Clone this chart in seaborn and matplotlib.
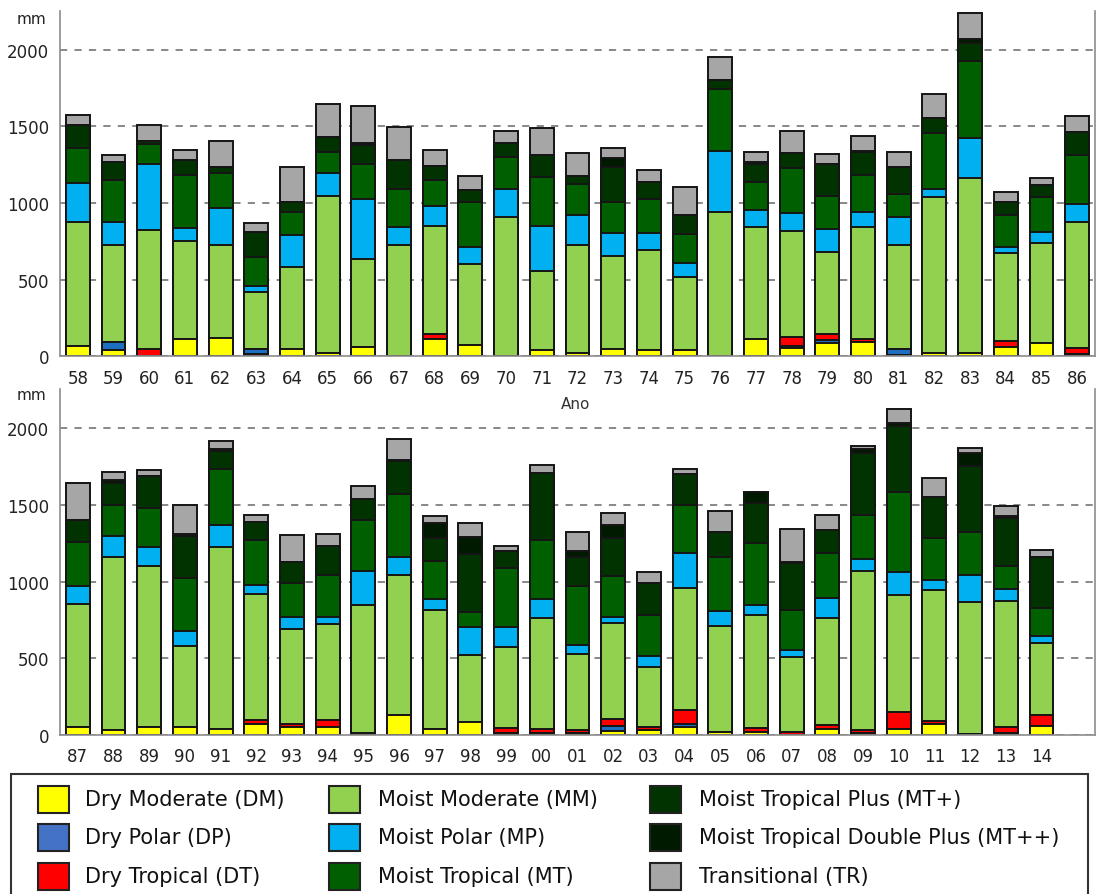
import numpy as np
import pandas as pd
import matplotlib
matplotlib.use("Agg")
import matplotlib.pyplot as plt
import seaborn as sns
from matplotlib.patches import Rectangle

# ---------------- data ----------------
years_top = ["58", "59", "60", "61", "62", "63", "64", "65", "66", "67", "68", "69", "70", "71", "72",
             "73", "74", "75", "76", "77", "78", "79", "80", "81", "82", "83", "84", "85", "86"]
dm_top = [65, 41, 0, 110, 120, 15, 50, 22, 60, 0, 115, 75, 0, 40, 20, 50, 38, 40, 0, 110, 55, 90, 95, 10, 20, 20, 60, 85, 15]
dp_top = [0, 55, 0, 0, 0, 30, 0, 0, 0, 0, 0, 0, 0, 0, 0, 0, 0, 0, 0, 0, 10, 18, 0, 35, 0, 0, 0, 0, 0]
dt_top = [0, 0, 45, 0, 0, 0, 0, 0, 0, 0, 30, 0, 0, 0, 0, 0, 0, 0, 0, 0, 60, 35, 20, 0, 0, 0, 40, 0, 40]
mm_top = [813, 632, 777, 640, 608, 372, 530, 1026, 575, 726, 707, 527, 911, 514, 706, 607, 656, 480, 944, 731,
          695, 540, 726, 681, 1017, 1143, 572, 652, 823]
mp_top = [250, 146, 432, 89, 239, 40, 213, 148, 391, 115, 126, 113, 180, 298, 196, 147, 110, 89, 397, 116,
          113, 147, 103, 185, 54, 261, 43, 72, 116]
mt_top = [229, 276, 133, 346, 231, 193, 146, 139, 228, 250, 172, 289, 207, 320, 202, 200, 222, 189, 403, 182,
          295, 218, 241, 148, 366, 504, 207, 228, 321]
mtp_top = [152, 117, 15, 95, 35, 159, 65, 93, 126, 189, 93, 81, 93, 141, 54, 229, 113, 124, 60, 115,
           96, 206, 145, 174, 97, 116, 82, 80, 146]
mtpp_top = [0, 0, 0, 0, 0, 0, 0, 0, 10, 0, 0, 0, 0, 0, 0, 58, 0, 0, 0, 15, 0, 0, 11, 0, 0, 26, 0, 0, 0]
tr_top = [67, 46, 109, 68, 174, 58, 229, 216, 240, 214, 103, 91, 81, 174, 146, 66, 78, 185, 146, 66,
          148, 66, 98, 102, 157, 167, 70, 46, 104]

years_bot = ["87", "88", "89", "90", "91", "92", "93", "94", "95", "96", "97", "98", "99", "00",
             "01", "02", "03", "04", "05", "06", "07", "08", "09", "10", "11", "12", "13", "14"]
dm_bot = [50, 35, 55, 50, 40, 70, 50, 55, 15, 133, 40, 85, 10, 13, 10, 28, 30, 50, 22, 17, 0, 40, 10, 40, 72, 5, 15, 61]
dp_bot = [0, 0, 0, 0, 0, 0, 0, 0, 0, 0, 0, 0, 0, 0, 0, 33, 0, 22, 0, 0, 0, 0, 0, 0, 0, 0, 0, 0]
dt_bot = [0, 0, 0, 0, 0, 30, 22, 45, 0, 0, 0, 0, 35, 27, 22, 43, 20, 93, 0, 26, 22, 22, 23, 108, 21, 0, 40, 72]
mm_bot = [804, 1128, 1049, 528, 1188, 820, 619, 624, 835, 911, 777, 437, 531, 721, 496, 624, 391, 792, 691, 742,
          489, 701, 1039, 765, 853, 860, 821, 467]
mp_bot = [116, 137, 124, 102, 142, 60, 79, 48, 217, 115, 70, 180, 126, 126, 59, 39, 76, 228, 94, 63,
          46, 131, 76, 148, 67, 181, 76, 48]
mt_bot = [287, 196, 252, 344, 365, 294, 221, 272, 331, 413, 250, 102, 387, 385, 387, 266, 266, 317, 352, 404,
          260, 291, 287, 522, 272, 276, 152, 180]
mtp_bot = [145, 145, 211, 276, 113, 117, 135, 186, 141, 211, 148, 377, 107, 437, 189, 252, 208, 196, 163, 261,
           303, 148, 402, 434, 269, 430, 309, 335]
mtpp_bot = [0, 18, 0, 11, 17, 0, 0, 0, 0, 11, 98, 108, 0, 0, 35, 85, 0, 0, 0, 70, 10, 0, 28, 18, 0, 87, 17, 0]
tr_bot = [242, 54, 33, 185, 50, 44, 178, 81, 83, 136, 43, 91, 34, 48, 124, 78, 70, 37, 137, 0,
          213, 102, 18, 91, 122, 31, 61, 44]

labels = ["Dry Moderate (DM)", "Dry Polar (DP)", "Dry Tropical (DT)",
          "Moist Moderate (MM)", "Moist Polar (MP)", "Moist Tropical (MT)",
          "Moist Tropical Plus (MT+)", "Moist Tropical Double Plus (MT++)", "Transitional (TR)"]
colors = ["#FFFF00", "#4472C4", "#FF0000", "#92D050", "#00B0F0", "#006000", "#003300", "#001A00", "#A6A6A6"]
bar_colors = ["#FFFF00", "#1F6FC0", "#FF0000", "#92D050", "#00B0F0", "#006000", "#003300", "#001A00", "#A6A6A6"]

# ---------------- figure ----------------
sns.set_style("white")
plt.rcParams["font.family"] = ["DejaVu Sans"]

W, H = 1096, 895
fig = plt.figure(figsize=(W / 100, H / 100), dpi=100)


def fx(px):
    return px / W


def fy(py):
    return 1 - py / H


ax_top = fig.add_axes([fx(60), fy(357.3), fx(1095) - fx(60), fy(11.7) - fy(357.3)])
ax_bot = fig.add_axes([fx(60), fy(736), fx(1095) - fx(60), fy(390) - fy(736)])


def draw(ax, years, layers):
    cum = np.cumsum(np.array(layers, dtype=float), axis=0)
    for i in range(len(layers) - 1, -1, -1):
        df = pd.DataFrame({"year": years, "v": cum[i]})
        sns.barplot(data=df, x="year", y="v", order=years, color=bar_colors[i], saturation=1,
                    width=0.67, edgecolor="#151515", linewidth=1.4, errorbar=None, ax=ax)
    ax.set_xlim(-0.5, 28.5)
    ax.set_ylim(0, 2255)
    ax.set_yticks([0, 500, 1000, 1500, 2000])
    ax.set_axisbelow(True)
    ax.yaxis.grid(True, linestyle=(0, (4, 4)), color="#7F7F7F", linewidth=1.3)
    ax.xaxis.grid(False)
    ax.set_xlabel("")
    ax.set_ylabel("")
    for s in ["left", "bottom", "right"]:
        ax.spines[s].set_visible(True)
        ax.spines[s].set_color("#8C8C8C")
        ax.spines[s].set_linewidth(1.2)
    ax.spines["top"].set_visible(False)
    ax.tick_params(axis="both", length=0, labelsize=12, colors="#222222")
    ax.tick_params(axis="x", pad=9)
    ax.tick_params(axis="y", pad=8)


draw(ax_top, years_top, [dm_top, dp_top, dt_top, mm_top, mp_top, mt_top, mtp_top, mtpp_top, tr_top])
draw(ax_bot, years_bot, [dm_bot, dp_bot, dt_bot, mm_bot, mp_bot, mt_bot, mtp_bot, mtpp_bot, tr_bot])

fig.text(fx(31), fy(19), "mm", ha="center", va="center", fontsize=11, color="#222222")
fig.text(fx(31), fy(396), "mm", ha="center", va="center", fontsize=11, color="#222222")
fig.text(fx(576), fy(405), "Ano", ha="center", va="center", fontsize=11, color="#333333")

# ---------------- legend ----------------
fig.add_artist(Rectangle((fx(10.5), fy(900)), fx(1088) - fx(10.5), fy(775) - fy(900),
                         transform=fig.transFigure, facecolor="white", edgecolor="#333333",
                         linewidth=1.5, clip_on=False))
col_patch_x = [38, 329, 650]
col_text_x = [85, 378, 699]
row_y = [800, 838.5, 877]
for k, (lab, col) in enumerate(zip(labels, colors)):
    c, r = divmod(k, 3)
    x0 = col_patch_x[c]
    yc = row_y[r]
    fig.add_artist(Rectangle((fx(x0), fy(yc + 13.5)), fx(31), 27 / H, transform=fig.transFigure,
                             facecolor=col, edgecolor="#222222", linewidth=1.5))
    fig.text(fx(col_text_x[c]), fy(yc), lab, ha="left", va="center", fontsize=15, color="#111111")

fig.savefig("out.png", dpi=100)
